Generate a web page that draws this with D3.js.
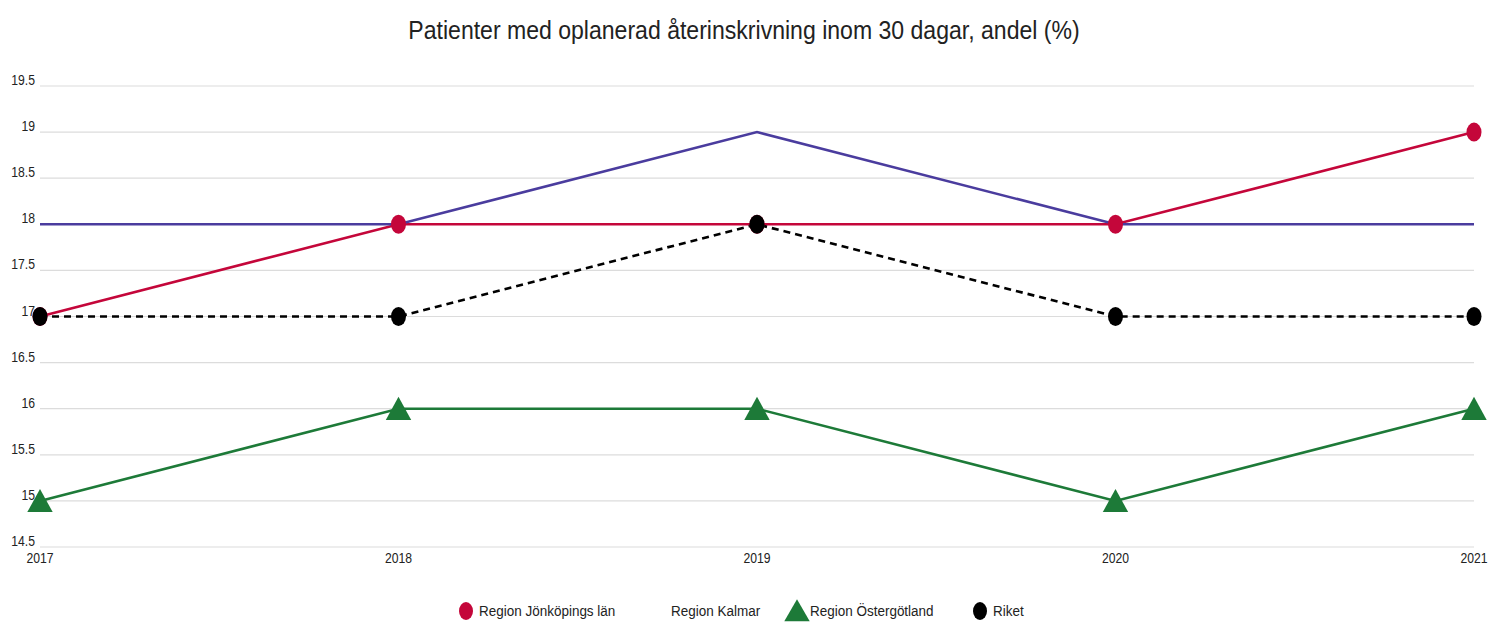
<!DOCTYPE html>
<html>
<head>
<meta charset="utf-8">
<script src="https://cdn.jsdelivr.net/npm/d3@7"></script>
<style>
  body { margin: 0; background: #fff; }
  text { font-family: "Liberation Sans", Arial, sans-serif; fill: #222; }
</style>
</head>
<body>
<script>
// chart data
const years = [2017, 2018, 2019, 2020, 2021];
const jonkoping = [17, 18, 18, 18, 19];
const kalmar = [18, 18, 19, 18, 18];
const ostergotland = [15, 16, 16, 15, 16];
const riket = [17, 17, 18, 17, 17];
const yTicks = [14.5, 15, 15.5, 16, 16.5, 17, 17.5, 18, 18.5, 19, 19.5];
const title = "Patienter med oplanerad återinskrivning inom 30 dagar, andel (%)";

const width = 1488, height = 623;
const margin = { top: 86, right: 14, bottom: 76, left: 40 };
const sx = 0.87; // text looks horizontally squeezed

const series = [
  { name: "Region Jönköpings län", values: jonkoping, color: "#c4063a", marker: "circle" },
  { name: "Region Kalmar", values: kalmar, color: "#4a3c9e", marker: "none" },
  { name: "Region Östergötland", values: ostergotland, color: "#1d7a38", marker: "triangle" },
  { name: "Riket", values: riket, color: "#000", marker: "circle", dash: "7,5" }
];

const svg = d3.select("body").append("svg")
  .attr("width", width)
  .attr("height", height);

const x = d3.scaleLinear()
  .domain([2017, 2021])
  .range([margin.left, width - margin.right]);

const y = d3.scaleLinear()
  .domain([14.5, 19.5])
  .range([height - margin.bottom, margin.top]);

// squeezed text helper
function sText(g, tx, ty, str, size, anchor) {
  return g.append("text")
    .attr("transform", `translate(${tx},${ty}) scale(${sx},1)`)
    .attr("text-anchor", anchor)
    .attr("font-size", size)
    .text(str);
}

// title
sText(svg, width / 2, 39, title, 26.5, "middle");

// grid lines
svg.append("g")
  .selectAll("line")
  .data(yTicks)
  .join("line")
    .attr("x1", x(2017)).attr("x2", x(2021))
    .attr("y1", d => y(d)).attr("y2", d => y(d))
    .attr("stroke", "#dcdcdc")
    .attr("stroke-width", 1.2);

// y labels
const yl = svg.append("g");
yTicks.forEach(t => sText(yl, 35, y(t) - 1, String(t), 14, "end"));

// x labels
const xl = svg.append("g");
years.forEach(yr => sText(xl, x(yr), height - margin.bottom + 16, String(yr), 14, "middle"));

const line = d3.line()
  .x((d, i) => x(years[i]))
  .y(d => y(d));

const tri = d3.symbol().type(d3.symbolTriangle).size(280);

series.forEach(s => {
  svg.append("path")
    .datum(s.values)
    .attr("fill", "none")
    .attr("stroke", s.color)
    .attr("stroke-width", 2.6)
    .attr("stroke-dasharray", s.dash || null)
    .attr("d", line);
});

series.forEach(s => {
  const g = svg.append("g");
  if (s.marker === "circle") {
    g.selectAll("ellipse")
      .data(s.values)
      .join("ellipse")
        .attr("cx", (d, i) => x(years[i]))
        .attr("cy", d => y(d))
        .attr("rx", 7.5)
        .attr("ry", 9.5)
        .attr("fill", s.color);
  } else if (s.marker === "triangle") {
    // shift down so the triangle box is centred on the point
    g.selectAll("path")
      .data(s.values)
      .join("path")
        .attr("transform", (d, i) => `translate(${x(years[i])},${y(d) + 3.5}) scale(1,1.05)`)
        .attr("d", tri)
        .attr("fill", s.color);
  }
});

// legend
const legendX = [466, 658, 797, 980];
const legY = 611;
const lg = svg.append("g");
series.forEach((s, i) => {
  const lx = legendX[i];
  if (s.marker === "circle") {
    lg.append("ellipse").attr("cx", lx).attr("cy", legY)
      .attr("rx", 7).attr("ry", 9).attr("fill", s.color);
  } else if (s.marker === "triangle") {
    lg.append("path").attr("transform", `translate(${lx},${legY + 3})`)
      .attr("d", tri).attr("fill", s.color);
  }
  sText(lg, lx + 13, legY + 5, s.name, 15.5, "start");
});
</script>
</body>
</html>
